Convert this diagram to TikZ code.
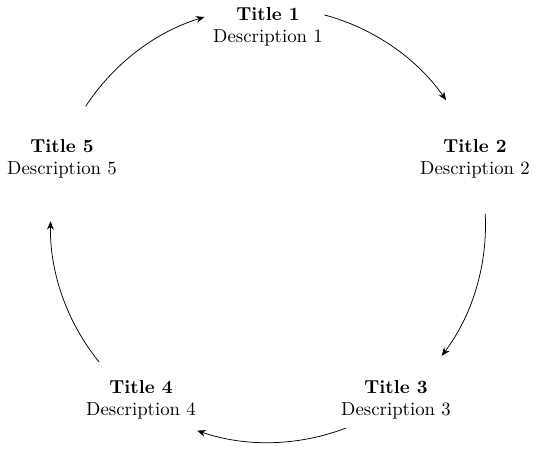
\documentclass[tikz,border=0pt]{standalone}
\usepackage{tikz}
\usetikzlibrary{arrows.meta, positioning}

\tikzset{
  stage/.style={align=center, inner sep=2pt},
  cycle arrow/.style={-{Stealth[length=4.5pt, width=3.6pt]}, thin}
}

\begin{document}
\begin{tikzpicture}[x=0.532pt, y=0.532pt]
        \useasboundingbox (-268,-224) rectangle (272,225);
        % stages round the cycle
        \node[stage] (s1) at (0,198)     {\textbf{Title 1}\\Description 1};
        \node[stage] (s2) at (207,66)    {\textbf{Title 2}\\Description 2};
        \node[stage] (s3) at (128,-175)  {\textbf{Title 3}\\Description 3};
        \node[stage] (s4) at (-127,-175) {\textbf{Title 4}\\Description 4};
        \node[stage] (s5) at (-206,66)   {\textbf{Title 5}\\Description 5};
        % arcs between stages
        \def\R{217.5}
        \coordinate (a1) at (75:\R);
        \coordinate (a2) at (3:\R);
        \coordinate (a3) at (-69:\R);
        \coordinate (a4) at (-141:\R);
        \coordinate (a5) at (147:\R);
        \draw[cycle arrow] (a1) arc[start angle=75, end angle=35, radius=\R];
        \draw[cycle arrow] (a2) arc[start angle=3, end angle=-37, radius=\R];
        \draw[cycle arrow] (a3) arc[start angle=-69, end angle=-109, radius=\R];
        \draw[cycle arrow] (a4) arc[start angle=-141, end angle=-181, radius=\R];
        \draw[cycle arrow] (a5) arc[start angle=147, end angle=107, radius=\R];
    \end{tikzpicture}
\end{document}
